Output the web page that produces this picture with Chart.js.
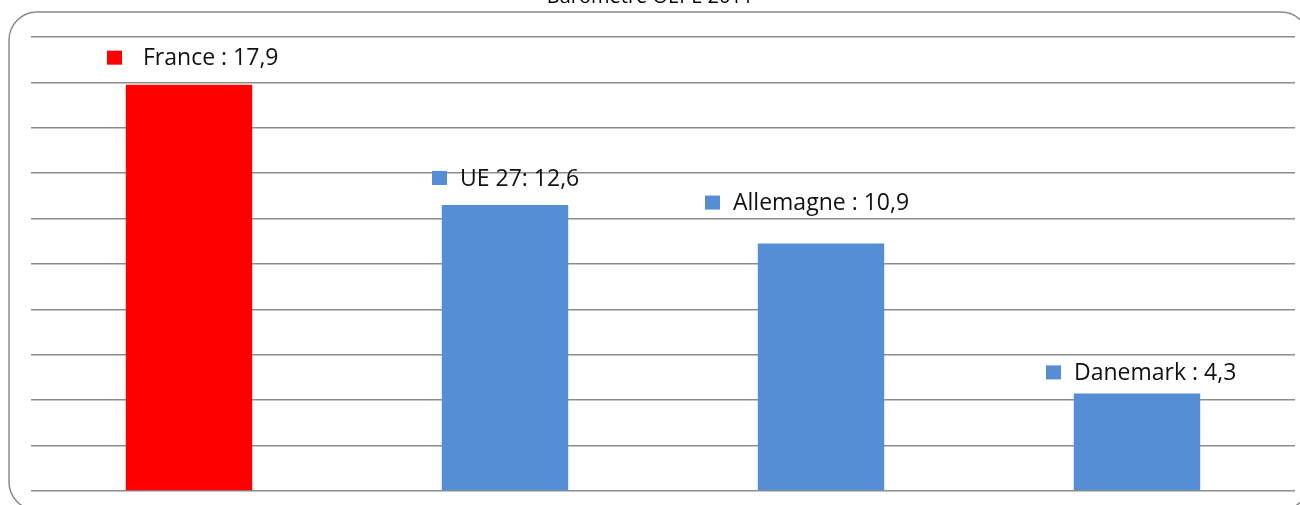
<!DOCTYPE html>
<html>
<head>
<meta charset="utf-8">
<script src="https://cdn.jsdelivr.net/npm/chart.js@4"></script>
<style>
  html, body { margin: 0; padding: 0; background: #fff; }
  #wrap { width: 1300px; height: 505px; position: relative; }
</style>
</head>
<body>
<div id="wrap"><canvas id="chart"></canvas></div>
<script>
const categories = ["France :", "UE 27:", "Allemagne :", "Danemark :"];
const values = [17.9, 12.6, 10.9, 4.3];
const barColors = ["#ff0000", "#558ed5", "#558ed5", "#558ed5"];
const chartTitle = "Baromètre OEPE 2011";

// label placement relative to bar centre / bar top
const labelDx = [-82, -73, -116, -91];
const labelDy = [-27, -27, -41, -21];
const labelGap = [36, 28, 28, 28];

const fmt = (v) => String(v).replace(".", ",");

const frame = {
  id: "frame",
  beforeDraw(chart) {
    const ctx = chart.ctx;
    ctx.save();
    ctx.strokeStyle = "#8a8a8a";
    ctx.lineWidth = 1.5;
    ctx.beginPath();
    ctx.roundRect(9, 12, 1300, 498, 28);
    ctx.stroke();
    ctx.fillStyle = "#000";
    ctx.font = "20px 'Open Sans'";
    ctx.textAlign = "center";
    ctx.textBaseline = "alphabetic";
    ctx.fillText(chartTitle, 650, 3);
    ctx.restore();
  },
  afterDatasetsDraw(chart) {
    const ctx = chart.ctx;
    const meta = chart.getDatasetMeta(0);
    ctx.save();
    ctx.font = "23px 'Open Sans'";
    ctx.textBaseline = "middle";
    ctx.textAlign = "left";
    meta.data.forEach((bar, i) => {
      const x = bar.x + labelDx[i];
      const y = bar.y + labelDy[i];
      ctx.fillStyle = barColors[i];
      ctx.fillRect(x, y - 7, 15, 14);
      ctx.fillStyle = "#111";
      ctx.fillText(categories[i] + " " + fmt(values[i]), x + labelGap[i], y + 1);
    });
    ctx.restore();
  }
};

new Chart(document.getElementById("chart"), {
  type: "bar",
  data: {
    labels: categories,
    datasets: [
      {
        data: values,
        backgroundColor: barColors,
        barPercentage: 0.4,
        categoryPercentage: 1,
      },
    ],
  },
  options: {
    responsive: true,
    maintainAspectRatio: false,
    animation: false,
    layout: { padding: { left: 31, right: 5, top: 37, bottom: 14 } },
    scales: {
      x: { display: false },
      y: {
        min: 0,
        max: 20,
        ticks: { display: false, stepSize: 2 },
        border: { display: false },
        grid: { color: "#8c8c8c", lineWidth: 1.6, drawTicks: false },
      },
    },
    plugins: {
      legend: { display: false },
      tooltip: { enabled: false },
    },
  },
  plugins: [frame],
});
</script>
</body>
</html>
